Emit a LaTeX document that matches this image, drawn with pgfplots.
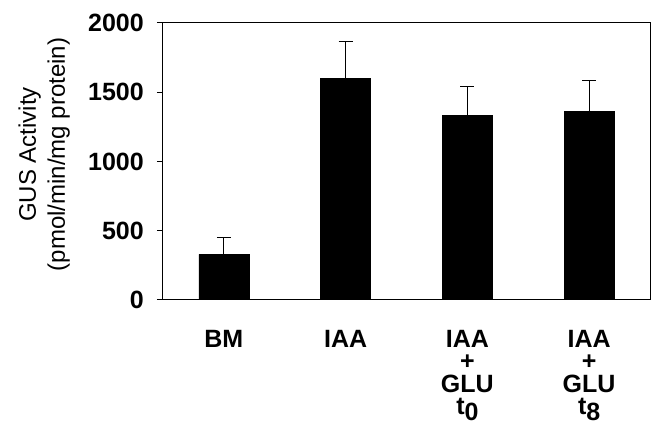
\documentclass[border=0pt]{standalone}
\usepackage{fontspec}
\setmainfont{Liberation Sans}
\usepackage{pgfplots}
\pgfplotsset{compat=1.18}
\begin{document}
\begin{tikzpicture}
\begin{axis}[
  width=487pt, height=277pt, scale only axis,
  xmin=-0.5, xmax=3.5, ymin=0, ymax=2000,
  ybar,
  ytick={0,500,1000,1500,2000},
  xtick={0,1,2,3},
  xticklabels={BM, IAA, {IAA\\+\\GLU\\t\raisebox{-6pt}{0}}, {IAA\\+\\GLU\\t\raisebox{-6pt}{8}}},
  xtick style={draw=none},
  ytick pos=left,
  tick align=outside,
  major tick length=6pt,
  axis line style={line width=1pt},
  major tick style={line width=1pt, black},
  /pgf/number format/assume math mode=true,
  /pgf/number format/1000 sep={},
  yticklabel style={font=\bfseries\fontsize{25}{25}\selectfont, inner sep=0pt, xshift=-13pt},
  xticklabel style={font=\bfseries\fontsize{25}{22.5}\selectfont, align=center, anchor=north, inner sep=0pt, yshift=-24pt},
  ylabel={GUS Activity\\(pmol/min/mg protein)},
  ylabel style={font=\fontsize{24}{29}\selectfont, align=center, at={(rel axis cs:0,0.525)}, anchor=south, inner sep=0pt, yshift=93pt},
]
\addplot[ybar, bar width=50pt, fill=black, draw=black,
  error bars/.cd, y dir=plus, y explicit,
  error bar style={line width=1pt, black},
  error mark options={rotate=90, mark size=7pt, line width=1pt, black}]
  coordinates {
  (0,330) +- (0,123)
  (1,1600) +- (0,265)
  (2,1331) +- (0,209)
  (3,1362) +- (0,224)
  };
\coordinate (ll) at (rel axis cs:0,0);
\coordinate (ur) at (rel axis cs:1,1);
\end{axis}
\pgfresetboundingbox
\path[use as bounding box] ([shift={(-163pt,-130pt)}]ll) rectangle ([shift={(4pt,23pt)}]ur);
\end{tikzpicture}
\end{document}
